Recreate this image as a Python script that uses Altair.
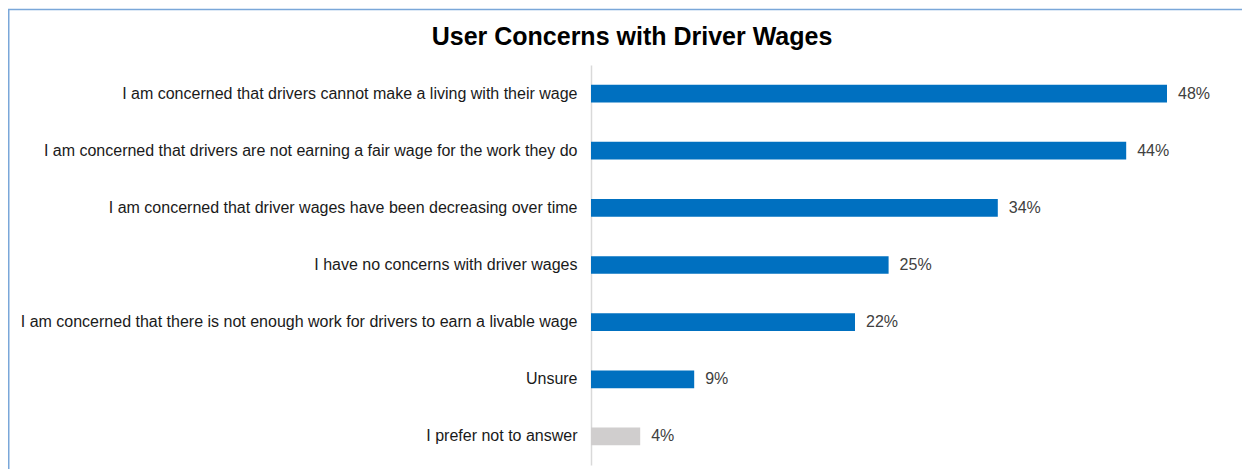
import altair as alt
import pandas as pd

title_text = "User Concerns with Driver Wages"
categories = [
    "I am concerned that drivers cannot make a living with their wage",
    "I am concerned that drivers are not earning a fair wage for the work they do",
    "I am concerned that driver wages have been decreasing over time",
    "I have no concerns with driver wages",
    "I am concerned that there is not enough work for drivers to earn a livable wage",
    "Unsure",
    "I prefer not to answer",
]
values = [48.0, 44.6, 33.9, 24.8, 22.0, 8.6, 4.1]
value_labels = ["48%", "44%", "34%", "25%", "22%", "9%", "4%"]

df = pd.DataFrame({"category": categories, "value": values, "label": value_labels})
title_df = pd.DataFrame({"title": [title_text]})

W, H = 640, 400
PAD_L, PAD_T = 583, 57
FONT = "Liberation Sans"

y_enc = alt.Y(
    "category:N",
    sort=categories,
    scale=alt.Scale(paddingInner=0.69, paddingOuter=0.345),
    axis=alt.Axis(
        title=None,
        ticks=False,
        labelFontSize=16,
        labelFont=FONT,
        labelColor="#1a1a1a",
        labelPadding=14,
        labelLimit=700,
        domainColor="#d9d9d9",
        domainWidth=1.5,
        grid=False,
    ),
)
x_enc = alt.X(
    "value:Q",
    scale=alt.Scale(domain=[0, W / 12], nice=False, zero=True),
    axis=None,
)

bars = alt.Chart(df).mark_bar().encode(
    x=x_enc,
    y=y_enc,
    color=alt.condition(
        alt.datum.category == "I prefer not to answer",
        alt.value("#d0cece"),
        alt.value("#0070c0"),
    ),
)

labels = alt.Chart(df).mark_text(
    align="left", baseline="middle", dx=11, fontSize=16, font=FONT, color="#404040"
).encode(x=x_enc, y=y_enc, text="label:N")

border_top = alt.Chart(title_df).mark_rule(stroke="#7aa7d9", strokeWidth=1.5).encode(
    x=alt.value(-PAD_L),
    x2=alt.value(W + 100),
    y=alt.value(-PAD_T + 1.5),
)
border_left = alt.Chart(title_df).mark_rule(stroke="#7aa7d9", strokeWidth=1.5).encode(
    x=alt.value(-PAD_L + 0.75),
    y=alt.value(-PAD_T + 1.5),
    y2=alt.value(H + 100),
)

title = alt.Chart(title_df).mark_text(
    align="center", baseline="alphabetic", fontSize=25, font=FONT,
    fontWeight="bold", color="#000000"
).encode(
    x=alt.value(632 - 591),
    y=alt.value(45 - 8 - PAD_T),
    text="title:N",
)

chart = (
    alt.layer(border_top, border_left, bars, labels, title)
    .properties(
        width=W,
        height=H,
        padding={"left": PAD_L, "top": PAD_T, "right": 11, "bottom": 4},
        autosize=alt.AutoSizeParams(type="none"),
    )
    .configure_view(stroke=None)
)

chart.save("out.html", embed_options={"renderer": "svg", "actions": False})
